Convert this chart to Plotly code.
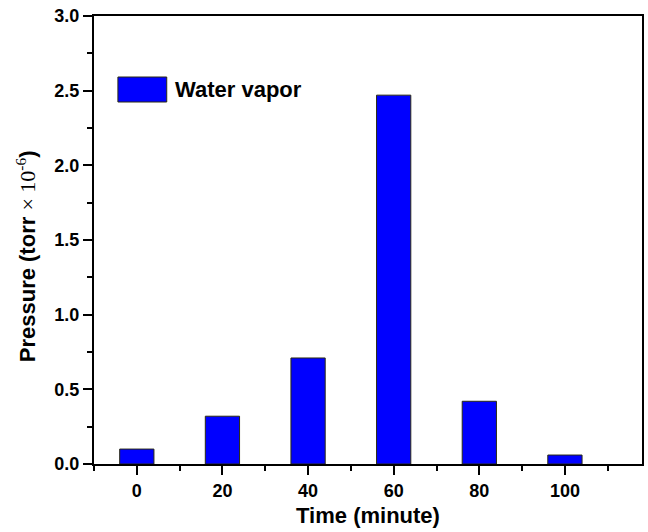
import plotly.graph_objects as go

times = [0, 20, 40, 60, 80, 100]
pressure = [0.10, 0.32, 0.71, 2.47, 0.42, 0.06]
series_name = "Water vapor"
x_ticks = [0, 20, 40, 60, 80, 100]
y_ticks = [0.0, 0.5, 1.0, 1.5, 2.0, 2.5, 3.0]

FONT = "Liberation Sans, Arial, sans-serif"

fig = go.Figure()
fig.add_trace(go.Bar(
    x=times, y=pressure, width=8, name=series_name,
    marker=dict(color="#0000FF", line=dict(color="#2a2a10", width=1)),
    showlegend=False,
))

# legend swatch + label
fig.add_shape(type="rect", xref="paper", yref="paper",
              x0=(118-94)/550, x1=(167-94)/550,
              y0=(464-102)/448, y1=(464-77)/448,
              fillcolor="#0000FF", line=dict(color="#2a2a10", width=1))
fig.add_annotation(xref="paper", yref="paper", x=(173-94)/550, y=(464-89.5)/448,
                   text=series_name, showarrow=False, xanchor="left", yanchor="middle",
                   font=dict(family=FONT, size=22, color="black", weight="bold"))

# y-axis title
fig.add_annotation(xref="paper", yref="paper", x=(26-94)/550, y=(464-256)/448,
                   text="Pressure (torr <span style='font-family:Liberation Serif;font-weight:normal'>× 10<sup>-6</sup></span>)",
                   textangle=-90, showarrow=False, xanchor="center", yanchor="middle",
                   font=dict(family=FONT, size=22, color="black", weight="bold"))

fig.update_layout(
    width=648, height=532,
    margin=dict(l=94, r=4, t=16, b=68),
    plot_bgcolor="white", paper_bgcolor="white",
    font=dict(family=FONT, color="black"),
)
fig.update_xaxes(
    range=[-10, 118], tickvals=x_ticks, ticktext=[str(v) for v in x_ticks],
    ticks="outside", ticklen=9, tickwidth=2, tickcolor="black",
    minor=dict(ticks="outside", ticklen=5, tickwidth=1.5, tickcolor="black", dtick=10, tick0=0),
    showline=True, linewidth=2, linecolor="black", mirror=True,
    showgrid=False, zeroline=False,
    tickfont=dict(family=FONT, size=18, weight="bold"),
    title=dict(text="Time (minute)", font=dict(family=FONT, size=22, weight="bold"), standoff=8),
)
fig.update_yaxes(
    range=[0, 3], tickvals=y_ticks, ticktext=[f"{v:.1f}" for v in y_ticks],
    ticks="outside", ticklen=9, tickwidth=2, tickcolor="black",
    minor=dict(ticks="outside", ticklen=5, tickwidth=1.5, tickcolor="black", dtick=0.25, tick0=0),
    showline=True, linewidth=2, linecolor="black", mirror=True,
    showgrid=False, zeroline=False,
    tickfont=dict(family=FONT, size=18, weight="bold"),
)

fig.write_html("out.html")
